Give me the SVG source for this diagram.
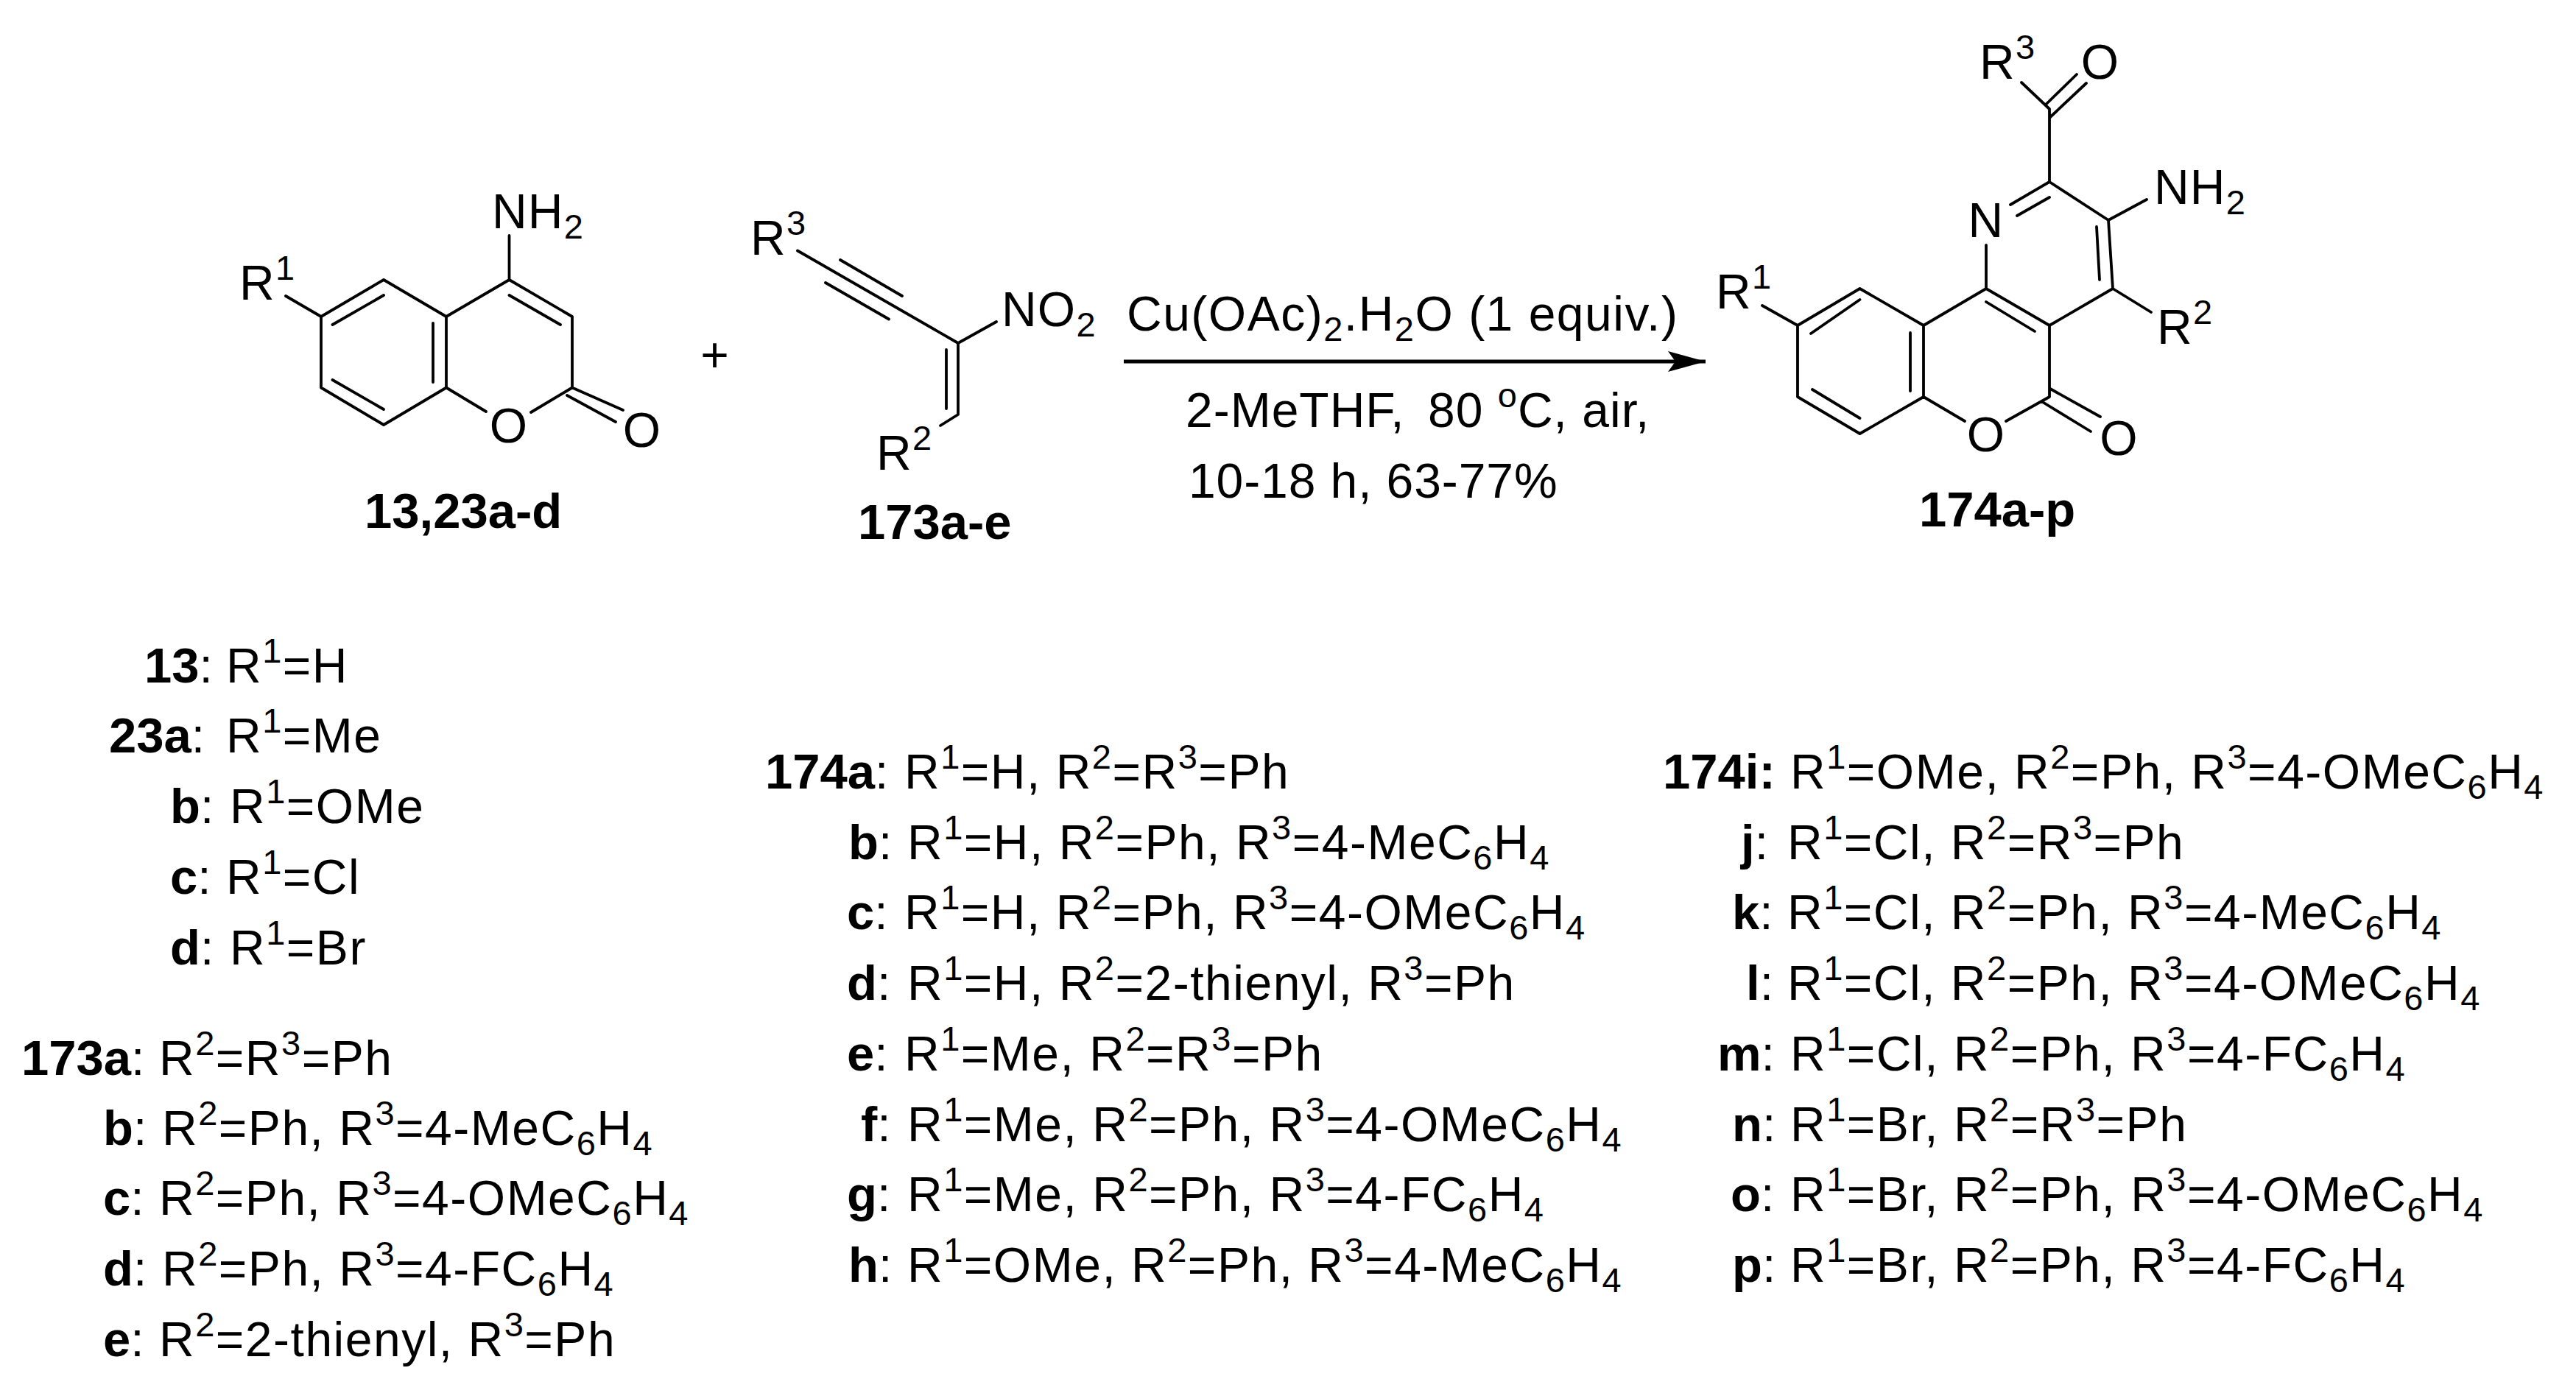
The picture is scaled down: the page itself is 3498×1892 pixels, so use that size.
<svg xmlns="http://www.w3.org/2000/svg" width="3498" height="1892" viewBox="0 0 3498 1892">
<style>
text{font-family:"Liberation Sans",Arial,sans-serif;font-size:66px;fill:#000;letter-spacing:1.5px}
.l{letter-spacing:1.2px}
.b{font-weight:bold;font-size:67px;letter-spacing:0}
.u{font-size:47px;baseline-shift:27px}
.d{font-size:47px;baseline-shift:-14px}
.m{text-anchor:middle}
.bond{stroke:#000;stroke-width:3.800;fill:none;stroke-linecap:round;stroke-linejoin:round}
</style>
<defs><marker id="ah" markerUnits="userSpaceOnUse" markerWidth="60" markerHeight="30" refX="51" refY="14" orient="auto"><path d="M0 0L51 14L0 28L10 14Z" fill="#000"/></marker></defs>
<rect width="3498" height="1892" fill="#fff"/>
<g id="connectors">
<path class="bond" style="stroke-width:5;stroke-linecap:butt" d="M1526 491H2316" marker-end="url(#ah)"/>
</g>
<g id="coumarin">
<path class="bond" d="M388 402L436 430L521 380L606 430L606 526.5L521 577L436 526.5L436 430M606 430L691.500 380L777 430L777 526.500L721 560M606 526.500L660 559M691.500 380V320M451.500 441L521 401M451.500 516L521 556M588 439V519M691.500 401L761 441M777 526.500L846 557M770 537L836 573"/>
<text class="l" x="325" y="407">R<tspan class="u">1</tspan></text>
<text class="l" x="668" y="310">NH<tspan class="d">2</tspan></text>
<text class="m l" x="691" y="601">O</text>
<text class="m l" x="872" y="607">O</text>
<text class="b" x="495" y="717">13,23a-d</text>
</g>
<text id="plus" class="m l" x="971" y="505">+</text>
<g id="nitroenyne">
<path class="bond" d="M1083 340.500L1301 466L1353 437M1141 353L1225 402M1121 384L1207 433.500M1301 466V563L1277 578M1285 475V555"/>
<text class="l" x="1019" y="346">R<tspan class="u">3</tspan></text>
<text class="l" x="1360" y="443">NO<tspan class="d">2</tspan></text>
<text class="l" x="1190" y="638">R<tspan class="u">2</tspan></text>
<text class="b" x="1165" y="732">173a-e</text>
</g>
<g id="conditions">
<text x="1530" y="449">Cu(OAc)<tspan class="d">2</tspan>.H<tspan class="d">2</tspan>O (1 equiv.)</text>
<text x="1610" y="580" style="letter-spacing:1px">2-MeTHF, <tspan dx="12">80</tspan> <tspan class="u">o</tspan>C, air,</text>
<text x="1614" y="676" style="letter-spacing:0.900px">10-18 h, 63-77%</text>
</g>
<g id="product">
<path class="bond" d="M2393 415L2441 442L2525.500 392L2612 442V539L2525.500 589L2441 539V442M2612 442L2697 392V333M2697 392L2783 442V539L2724 572M2612 539L2668 572M2459 453L2525.500 407M2461 529L2525.500 568M2594 452V531M2697 410L2763 450M2784 528L2852 566M2772 545L2839 586M2783 442L2869 392L2863 299L2783 247L2730 278M2739 293L2783 268M2847 308L2851 380M2863 299L2915 271M2869 392L2921 424M2783 247V148L2745 112M2778 142L2820 101M2783 160L2833 113"/>
<text class="l" x="2330" y="419">R<tspan class="u">1</tspan></text>
<text class="m l" x="2697" y="321.500">N</text>
<text class="l" x="2925" y="277">NH<tspan class="d">2</tspan></text>
<text class="l" x="2929" y="467">R<tspan class="u">2</tspan></text>
<text class="l" x="2688" y="106.500">R<tspan class="u">3</tspan></text>
<text class="m l" x="2852" y="107">O</text>
<text class="m l" x="2697" y="613">O</text>
<text class="m l" x="2877.500" y="618">O</text>
<text class="b" x="2606" y="715">174a-p</text>
</g>
<g id="list-left">
<text y="927"><tspan class="b" x="196">13</tspan>:<tspan x="307">R</tspan><tspan class="u">1</tspan>=H</text>
<text y="1022"><tspan class="b" x="148">23a</tspan>:<tspan x="307">R</tspan><tspan class="u">1</tspan>=Me</text>
<text y="1118"><tspan class="b" x="231">b</tspan>:<tspan x="312">R</tspan><tspan class="u">1</tspan>=OMe</text>
<text y="1214"><tspan class="b" x="231">c</tspan>:<tspan x="307">R</tspan><tspan class="u">1</tspan>=Cl</text>
<text y="1310"><tspan class="b" x="231">d</tspan>:<tspan x="312">R</tspan><tspan class="u">1</tspan>=Br</text>
<text y="1460"><tspan class="b" x="29">173a</tspan>:<tspan x="216">R</tspan><tspan class="u">2</tspan>=R<tspan class="u">3</tspan>=Ph</text>
<text y="1555"><tspan class="b" x="140">b</tspan>:<tspan x="220">R</tspan><tspan class="u">2</tspan>=Ph, R<tspan class="u">3</tspan>=4-MeC<tspan class="d">6</tspan>H<tspan class="d">4</tspan></text>
<text y="1650"><tspan class="b" x="140">c</tspan>:<tspan x="216">R</tspan><tspan class="u">2</tspan>=Ph, R<tspan class="u">3</tspan>=4-OMeC<tspan class="d">6</tspan>H<tspan class="d">4</tspan></text>
<text y="1746"><tspan class="b" x="140">d</tspan>:<tspan x="220">R</tspan><tspan class="u">2</tspan>=Ph, R<tspan class="u">3</tspan>=4-FC<tspan class="d">6</tspan>H<tspan class="d">4</tspan></text>
<text y="1842"><tspan class="b" x="140">e</tspan>:<tspan x="216">R</tspan><tspan class="u">2</tspan>=2-thienyl, R<tspan class="u">3</tspan>=Ph</text>
</g>
<g id="list-middle">
<text y="1070.500"><tspan class="b" x="1039">174a</tspan>:<tspan x="1228">R</tspan><tspan class="u">1</tspan>=H, R<tspan class="u">2</tspan>=R<tspan class="u">3</tspan>=Ph</text>
<text y="1166.500"><tspan class="b" x="1152">b</tspan>:<tspan x="1232">R</tspan><tspan class="u">1</tspan>=H, R<tspan class="u">2</tspan>=Ph, R<tspan class="u">3</tspan>=4-MeC<tspan class="d">6</tspan>H<tspan class="d">4</tspan></text>
<text y="1262"><tspan class="b" x="1150">c</tspan>:<tspan x="1228">R</tspan><tspan class="u">1</tspan>=H, R<tspan class="u">2</tspan>=Ph, R<tspan class="u">3</tspan>=4-OMeC<tspan class="d">6</tspan>H<tspan class="d">4</tspan></text>
<text y="1358"><tspan class="b" x="1150">d</tspan>:<tspan x="1232">R</tspan><tspan class="u">1</tspan>=H, R<tspan class="u">2</tspan>=2-thienyl, R<tspan class="u">3</tspan>=Ph</text>
<text y="1454"><tspan class="b" x="1150">e</tspan>:<tspan x="1228">R</tspan><tspan class="u">1</tspan>=Me, R<tspan class="u">2</tspan>=R<tspan class="u">3</tspan>=Ph</text>
<text y="1550"><tspan class="b" x="1169">f</tspan>:<tspan x="1232">R</tspan><tspan class="u">1</tspan>=Me, R<tspan class="u">2</tspan>=Ph, R<tspan class="u">3</tspan>=4-OMeC<tspan class="d">6</tspan>H<tspan class="d">4</tspan></text>
<text y="1645"><tspan class="b" x="1150">g</tspan>:<tspan x="1232">R</tspan><tspan class="u">1</tspan>=Me, R<tspan class="u">2</tspan>=Ph, R<tspan class="u">3</tspan>=4-FC<tspan class="d">6</tspan>H<tspan class="d">4</tspan></text>
<text y="1741"><tspan class="b" x="1152">h</tspan>:<tspan x="1232">R</tspan><tspan class="u">1</tspan>=OMe, R<tspan class="u">2</tspan>=Ph, R<tspan class="u">3</tspan>=4-MeC<tspan class="d">6</tspan>H<tspan class="d">4</tspan></text>
</g>
<g id="list-right">
<text y="1070.500"><tspan class="b" x="2258">174i:</tspan><tspan x="2431">R</tspan><tspan class="u">1</tspan>=OMe, R<tspan class="u">2</tspan>=Ph, R<tspan class="u">3</tspan>=4-OMeC<tspan class="d">6</tspan>H<tspan class="d">4</tspan></text>
<text y="1166.500"><tspan class="b" x="2364">j</tspan>:<tspan x="2427">R</tspan><tspan class="u">1</tspan>=Cl, R<tspan class="u">2</tspan>=R<tspan class="u">3</tspan>=Ph</text>
<text y="1262"><tspan class="b" x="2352">k</tspan>:<tspan x="2427">R</tspan><tspan class="u">1</tspan>=Cl, R<tspan class="u">2</tspan>=Ph, R<tspan class="u">3</tspan>=4-MeC<tspan class="d">6</tspan>H<tspan class="d">4</tspan></text>
<text y="1358"><tspan class="b" x="2371">l</tspan>:<tspan x="2427">R</tspan><tspan class="u">1</tspan>=Cl, R<tspan class="u">2</tspan>=Ph, R<tspan class="u">3</tspan>=4-OMeC<tspan class="d">6</tspan>H<tspan class="d">4</tspan></text>
<text y="1454"><tspan class="b" x="2332">m</tspan>:<tspan x="2431">R</tspan><tspan class="u">1</tspan>=Cl, R<tspan class="u">2</tspan>=Ph, R<tspan class="u">3</tspan>=4-FC<tspan class="d">6</tspan>H<tspan class="d">4</tspan></text>
<text y="1550"><tspan class="b" x="2352">n</tspan>:<tspan x="2431">R</tspan><tspan class="u">1</tspan>=Br, R<tspan class="u">2</tspan>=R<tspan class="u">3</tspan>=Ph</text>
<text y="1645"><tspan class="b" x="2350">o</tspan>:<tspan x="2431">R</tspan><tspan class="u">1</tspan>=Br, R<tspan class="u">2</tspan>=Ph, R<tspan class="u">3</tspan>=4-OMeC<tspan class="d">6</tspan>H<tspan class="d">4</tspan></text>
<text y="1741"><tspan class="b" x="2352">p</tspan>:<tspan x="2431">R</tspan><tspan class="u">1</tspan>=Br, R<tspan class="u">2</tspan>=Ph, R<tspan class="u">3</tspan>=4-FC<tspan class="d">6</tspan>H<tspan class="d">4</tspan></text>
</g>
</svg>
